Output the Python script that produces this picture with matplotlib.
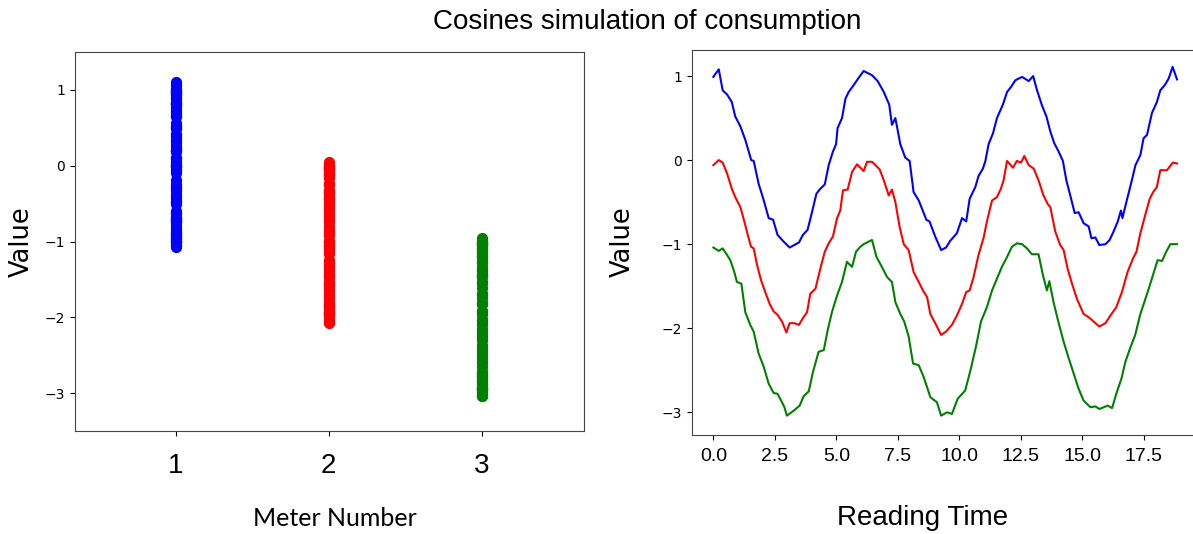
import numpy as np
import matplotlib.pyplot as plt

# readings traced from the three meters (time, value)
t_blue = [0.0, 0.22, 0.38, 0.56, 0.75, 0.89, 1.10, 1.30, 1.44, 1.54,
          1.64, 1.84, 2.05, 2.25, 2.43, 2.61, 2.86, 3.10, 3.29, 3.48,
          3.64, 3.83, 4.01, 4.19, 4.35, 4.53, 4.69, 4.86, 4.99, 5.05,
          5.23, 5.37, 5.50, 5.70, 5.91,
          6.11, 6.45, 6.68, 6.93, 7.15, 7.26, 7.40, 7.60, 7.80, 7.98,
          8.14, 8.35, 8.66, 8.79, 9.02, 9.26, 9.46, 9.63, 9.90, 10.11,
          10.28, 10.42, 10.65, 10.78, 10.96, 11.06, 11.19, 11.37, 11.53, 11.77,
          11.94, 12.10,
          12.28, 12.55, 12.82, 13.00, 13.16, 13.36, 13.54, 13.70, 13.86, 14.04,
          14.21, 14.35, 14.51, 14.69, 14.85, 15.05, 15.26, 15.37, 15.53, 15.69,
          15.94, 16.11, 16.27, 16.44, 16.57, 16.63, 16.79, 16.98, 17.16, 17.36,
          17.49, 17.63, 17.83, 18.03, 18.17, 18.37, 18.51, 18.67, 18.85]
v_blue = [0.99, 1.08, 0.83, 0.78, 0.69, 0.52, 0.40, 0.24, 0.10, 0.00,
          -0.01, -0.28, -0.48, -0.69, -0.71, -0.89, -0.97, -1.04, -1.01, -0.98,
          -0.89, -0.83, -0.62, -0.40, -0.34, -0.29, -0.06, 0.10, 0.19, 0.38,
          0.50, 0.73, 0.81, 0.89, 0.98,
          1.06, 1.01, 0.94, 0.81, 0.66, 0.42, 0.50, 0.19, 0.03, -0.01,
          -0.38, -0.48, -0.71, -0.73, -0.91, -1.07, -1.04, -0.96, -0.87, -0.69,
          -0.73, -0.46, -0.32, -0.19, -0.10, -0.01, 0.19, 0.32, 0.50, 0.66,
          0.81, 0.87,
          0.95, 0.99, 0.94, 1.00, 0.83, 0.65, 0.52, 0.34, 0.20, 0.10,
          -0.01, -0.24, -0.42, -0.63, -0.62, -0.75, -0.79, -0.93, -0.92, -1.01,
          -1.00, -0.95, -0.85, -0.73, -0.60, -0.69, -0.50, -0.28, -0.06, 0.06,
          0.26, 0.30, 0.56, 0.69, 0.83, 0.90, 0.97, 1.11, 0.96]

t_red = [0.0, 0.22, 0.38, 0.56, 0.75, 0.89, 1.10, 1.26, 1.40, 1.53,
         1.64, 1.78, 1.94, 2.11, 2.29, 2.45, 2.61, 2.79, 2.97, 3.10,
         3.29, 3.48, 3.64, 3.81, 3.94, 4.15, 4.35, 4.53, 4.69, 4.86,
         5.03, 5.16, 5.27, 5.46, 5.64, 5.84,
         6.11, 6.25, 6.45, 6.76, 6.93, 7.13, 7.26, 7.40, 7.57, 7.74,
         7.94, 8.14, 8.35, 8.52, 8.69, 8.82, 9.02, 9.26, 9.46, 9.70,
         9.90, 10.11, 10.28, 10.42, 10.58, 10.78, 10.92, 10.99, 11.12, 11.33,
         11.53, 11.69, 11.80, 11.94, 12.18,
         12.34, 12.51, 12.64, 12.82, 13.02, 13.22, 13.42, 13.59, 13.70, 13.90,
         14.10, 14.24, 14.40, 14.58, 14.78, 15.05, 15.26, 15.46, 15.69, 15.94,
         16.14, 16.38, 16.61, 16.84, 17.06, 17.20, 17.36, 17.56, 17.74, 17.88,
         18.03, 18.17, 18.44, 18.68, 18.85]
v_red = [-0.06, 0.00, -0.03, -0.16, -0.34, -0.44, -0.56, -0.73, -0.89, -1.03,
         -1.05, -1.25, -1.43, -1.57, -1.71, -1.80, -1.84, -1.92, -2.05, -1.94,
         -1.94, -1.96, -1.88, -1.81, -1.59, -1.53, -1.29, -1.09, -0.99, -0.91,
         -0.69, -0.60, -0.36, -0.35, -0.14, -0.05,
         -0.13, -0.02, -0.02, -0.11, -0.24, -0.42, -0.35, -0.50, -0.79, -1.00,
         -1.07, -1.33, -1.45, -1.55, -1.63, -1.83, -1.94, -2.08, -2.04, -1.96,
         -1.85, -1.71, -1.57, -1.55, -1.39, -1.13, -0.99, -0.92, -0.73, -0.48,
         -0.44, -0.34, -0.24, -0.01, -0.09,
         -0.01, -0.03, 0.05, -0.06, -0.10, -0.24, -0.42, -0.52, -0.56, -0.85,
         -1.01, -1.07, -1.29, -1.47, -1.65, -1.83, -1.87, -1.92, -1.98, -1.94,
         -1.85, -1.75, -1.57, -1.33, -1.17, -1.09, -0.87, -0.65, -0.46, -0.38,
         -0.32, -0.12, -0.12, -0.03, -0.04]

t_green = [0.0, 0.22, 0.38, 0.56, 0.69, 0.85, 0.96, 1.14, 1.30, 1.50,
           1.64, 1.84, 2.05, 2.25, 2.45, 2.61, 2.79, 2.89, 2.99, 3.27,
           3.51, 3.67, 3.88, 4.05, 4.28, 4.49, 4.65, 4.82, 5.03, 5.23,
           5.43, 5.64, 5.80, 5.98,
           6.11, 6.45, 6.63, 6.85, 7.06, 7.26, 7.40, 7.60, 7.76, 7.94,
           8.12, 8.35, 8.55, 8.71, 8.82, 9.09, 9.26, 9.50, 9.70, 9.93,
           10.24, 10.47, 10.69, 10.88, 11.12, 11.33, 11.53, 11.73, 11.91, 12.14,
           12.34,
           12.55, 12.75, 12.95, 13.22, 13.40, 13.56, 13.66, 13.83, 14.04, 14.24,
           14.45, 14.65, 14.85, 15.05, 15.33, 15.53, 15.69, 15.87, 16.03, 16.21,
           16.38, 16.59, 16.75, 16.94, 17.15, 17.36, 17.52, 17.70, 17.87, 18.06,
           18.24, 18.41, 18.58, 18.85]
v_green = [-1.04, -1.08, -1.05, -1.13, -1.19, -1.33, -1.45, -1.47, -1.81, -1.96,
           -2.04, -2.30, -2.46, -2.66, -2.77, -2.78, -2.88, -2.94, -3.04, -2.98,
           -2.92, -2.81, -2.75, -2.52, -2.28, -2.26, -2.02, -1.81, -1.61, -1.45,
           -1.21, -1.27, -1.09, -1.03,
           -1.00, -0.95, -1.15, -1.27, -1.39, -1.45, -1.69, -1.83, -1.92, -2.10,
           -2.42, -2.44, -2.58, -2.72, -2.82, -2.88, -3.04, -3.00, -3.02, -2.84,
           -2.74, -2.48, -2.20, -1.92, -1.75, -1.55, -1.41, -1.27, -1.17, -1.03,
           -0.99,
           -1.00, -1.05, -1.12, -1.12, -1.37, -1.55, -1.44, -1.69, -1.94, -2.16,
           -2.36, -2.54, -2.72, -2.86, -2.94, -2.93, -2.96, -2.94, -2.92, -2.95,
           -2.78, -2.60, -2.40, -2.24, -2.08, -1.83, -1.69, -1.53, -1.37, -1.19,
           -1.20, -1.09, -1.00, -1.00]

meters = [1, 2, 3]
colors = ["blue", "red", "green"]
series = [(t_blue, v_blue), (t_red, v_red), (t_green, v_green)]

fig = plt.figure(figsize=(11.93, 5.34), dpi=100)
ax1 = fig.add_axes([0.0629, 0.1929, 0.4267, 0.7097])
ax2 = fig.add_axes([0.580, 0.1854, 0.4262, 0.721])

for m, c, (t, v) in zip(meters, colors, series):
    ax1.scatter(np.full(len(v), m), v, color=c, s=50)
    ax2.plot(t, v, color=c, linewidth=1.5)

ax1.set_xlim(0.34, 3.67)
ax1.set_ylim(-3.5, 1.5)
ax1.set_xticks(meters)
ax1.set_xticklabels([str(m) for m in meters], fontsize=20, family="Liberation Sans")
ax1.tick_params(axis="x", pad=12)
ax1.tick_params(axis="y", labelsize=10)
ax1.set_xlabel("Meter Number", fontsize=18, family="Lato", va="center")
ax1.xaxis.set_label_coords(0.511, -0.2296)
ax1.set_ylabel("Value", fontsize=18.5, va="center")
ax1.yaxis.set_label_coords(-0.104, 0.499)

ax2.set_xlim(-0.87, 19.8)
ax2.set_ylim(-3.27, 1.31)
ax2.set_xticks([0, 2.5, 5, 7.5, 10, 12.5, 15, 17.5])
ax2.set_xticklabels(["0.0", "2.5", "5.0", "7.5", "10.0", "12.5", "15.0", "17.5"],
                    fontsize=14, family="Liberation Sans")
ax2.tick_params(axis="x", pad=6)
ax2.tick_params(axis="y", labelsize=10)
ax2.set_xlabel("Reading Time", fontsize=20, family="Liberation Sans", va="center")
ax2.xaxis.set_label_coords(0.454, -0.2156)
ax2.set_ylabel("Value", fontsize=18.5, va="center")
ax2.yaxis.set_label_coords(-0.1357, 0.501)

for ax in (ax1, ax2):
    for sp in ax.spines.values():
        sp.set_color("#444444")

fig.text(0.5423, 0.9588, "Cosines simulation of consumption", fontsize=20,
         family="Liberation Sans", ha="center", va="center")

fig.savefig("out.png", dpi=100)
